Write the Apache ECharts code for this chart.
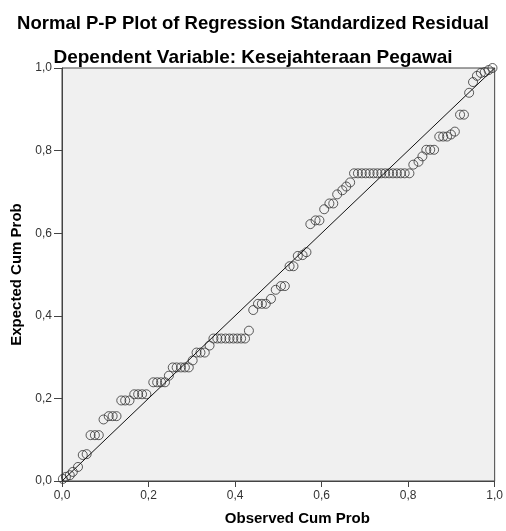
<!DOCTYPE html>
<html>
<head>
<meta charset="utf-8">
<script src="https://cdn.jsdelivr.net/npm/echarts@6/dist/echarts.min.js"></script>
<style>
  html, body { margin: 0; padding: 0; background: #fff; }
  #chart { width: 506px; height: 531px; }
</style>
</head>
<body>
<div id="chart"></div>
<script>
// observed cum prob (x) / expected cum prob (y)
var observed = [
  0.002, 0.009, 0.018, 0.025, 0.037, 0.048, 0.057, 0.066, 0.076, 0.085,
  0.096, 0.108, 0.117, 0.126, 0.137, 0.146, 0.156, 0.167, 0.176, 0.185,
  0.195, 0.211, 0.220, 0.229, 0.238, 0.247, 0.256, 0.265, 0.275, 0.284,
  0.293, 0.302, 0.311, 0.320, 0.330, 0.341, 0.350, 0.359, 0.368, 0.378,
  0.387, 0.396, 0.405, 0.414, 0.423, 0.432, 0.442, 0.453, 0.462, 0.471,
  0.483, 0.494, 0.506, 0.515, 0.526, 0.535, 0.545, 0.556, 0.565, 0.574,
  0.586, 0.595, 0.606, 0.618, 0.627, 0.636, 0.648, 0.657, 0.666, 0.675,
  0.684, 0.693, 0.702, 0.711, 0.720, 0.729, 0.738, 0.747, 0.756, 0.765,
  0.774, 0.783, 0.792, 0.803, 0.812, 0.824, 0.833, 0.842, 0.851, 0.860,
  0.872, 0.881, 0.890, 0.899, 0.908, 0.920, 0.929, 0.941, 0.950, 0.959,
  0.968, 0.977, 0.986, 0.995
];
var expected = [
  0.005, 0.010, 0.014, 0.022, 0.034, 0.063, 0.065, 0.111, 0.111, 0.111,
  0.149, 0.157, 0.157, 0.157, 0.195, 0.195, 0.195, 0.210, 0.210, 0.210,
  0.210, 0.239, 0.239, 0.239, 0.239, 0.255, 0.275, 0.275, 0.275, 0.275,
  0.275, 0.292, 0.311, 0.311, 0.311, 0.328, 0.345, 0.345, 0.345, 0.345,
  0.345, 0.345, 0.345, 0.345, 0.345, 0.364, 0.414, 0.429, 0.429, 0.429,
  0.441, 0.463, 0.472, 0.472, 0.520, 0.520, 0.545, 0.547, 0.554, 0.622,
  0.631, 0.631, 0.658, 0.672, 0.672, 0.694, 0.704, 0.713, 0.723, 0.745,
  0.745, 0.745, 0.745, 0.745, 0.745, 0.745, 0.745, 0.745, 0.745, 0.745,
  0.745, 0.745, 0.745, 0.745, 0.766, 0.773, 0.786, 0.802, 0.802, 0.802,
  0.834, 0.834, 0.834, 0.839, 0.846, 0.887, 0.887, 0.940, 0.966, 0.981,
  0.988, 0.990, 0.995, 1.000
];
var refLine = [[0, 0], [1, 1]];
var titleText = 'Normal P-P Plot of Regression Standardized Residual';
var subText = 'Dependent Variable: Kesejahteraan Pegawai';
var xName = 'Observed Cum Prob';
var yName = 'Expected Cum Prob';

var points = [];
for (var i = 0; i < observed.length; i++) {
  points.push([observed[i], expected[i]]);
}

var font = '"Liberation Sans", Arial, sans-serif';
function fmt(v) { return v.toFixed(1).replace('.', ','); }

var myChart = echarts.init(document.getElementById('chart'));
var option = {
  animation: false,
  title: [
    {
      text: titleText, left: 'center', top: 9,
      textStyle: { fontFamily: font, fontSize: 18.5, fontWeight: 'bold', color: '#000' }
    },
    {
      text: subText, left: 'center', top: 43,
      textStyle: { fontFamily: font, fontSize: 19, fontWeight: 'bold', color: '#000' }
    }
  ],
  grid: {
    left: 62, right: 7, top: 68, bottom: 48,
    show: true, backgroundColor: '#f0f0f0', borderColor: '#444', borderWidth: 1
  },
  xAxis: {
    type: 'value', min: 0, max: 1, interval: 0.2,
    name: xName, nameLocation: 'middle', nameGap: 30,
    nameTextStyle: { fontFamily: font, fontSize: 15, fontWeight: 'bold', color: '#000', padding: [0, 0, 0, 38] },
    axisLine: { show: true, lineStyle: { color: '#444', width: 1 } },
    axisTick: { show: true, length: 6, lineStyle: { color: '#444' } },
    axisLabel: { formatter: fmt, margin: 9, fontFamily: font, fontSize: 12, color: '#333' },
    splitLine: { show: false }
  },
  yAxis: {
    type: 'value', min: 0, max: 1, interval: 0.2,
    name: yName, nameLocation: 'middle', nameGap: 37, nameRotate: 90,
    nameTextStyle: { fontFamily: font, fontSize: 15, fontWeight: 'bold', color: '#000' },
    axisLine: { show: true, lineStyle: { color: '#444', width: 1 } },
    axisTick: { show: true, length: 8, lineStyle: { color: '#444' } },
    axisLabel: { formatter: fmt, margin: 10, fontFamily: font, fontSize: 12, color: '#333' },
    splitLine: { show: false }
  },
  series: [
    {
      type: 'line', data: refLine, symbol: 'none', silent: true,
      lineStyle: { color: '#111', width: 1 }
    },
    {
      type: 'scatter', data: points, symbol: 'circle', symbolSize: 9,
      itemStyle: { color: 'rgba(0,0,0,0)', borderColor: '#333', borderWidth: 1 }
    }
  ]
};
myChart.setOption(option);
window.onresize = myChart.resize;
</script>
</body>
</html>
